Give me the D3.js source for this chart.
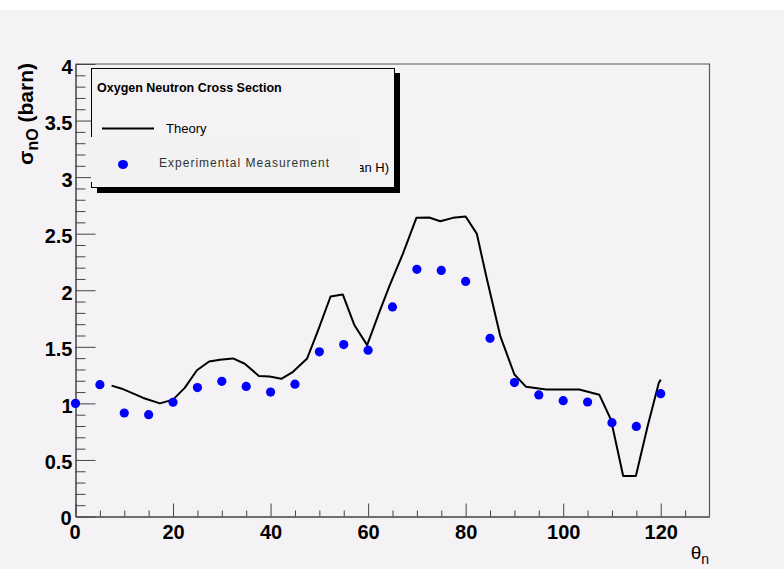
<!DOCTYPE html>
<html>
<head>
<meta charset="utf-8">
<script src="https://cdn.jsdelivr.net/npm/d3@7"></script>
<style>
  body { margin: 0; background: #f5f2f5; }
  svg { display: block; font-family: 'Liberation Sans', Arial, sans-serif; }
</style>
</head>
<body>
<div id="chart"></div>
<script>
// measured points
var angles = [0, 5, 10, 15, 20, 25, 30, 35, 40, 45, 50, 55, 60, 65, 70, 75, 80, 85, 90, 95, 100, 105, 110, 115, 120]
var measured = [1.0, 1.165, 0.915, 0.9, 1.01, 1.14, 1.195, 1.15, 1.10, 1.17, 1.456, 1.52, 1.47, 1.853, 2.185, 2.175, 2.078, 1.575, 1.184, 1.075, 1.024, 1.012, 0.829, 0.796, 1.086]

// theory curve
var theoryX = [7.4, 9.5, 13.9, 17.3, 20, 22.4, 24.9, 27.4, 29.6, 32.3, 34.7, 37.6, 39.8, 42.2, 44.6, 47.5, 49.7, 52.3, 54.8, 57.2, 59.8, 62.4, 64.4, 67.1, 69.9, 72.5, 74.8, 77.4, 80, 82.3, 84.2, 87.1, 90, 92.4, 96.5, 103.3, 107.4, 109.8, 112.3, 114.9, 117.3, 119.6, 120]
var theoryY = [1.157, 1.13, 1.048, 1.0, 1.033, 1.137, 1.293, 1.37, 1.385, 1.397, 1.35, 1.243, 1.237, 1.217, 1.279, 1.397, 1.64, 1.945, 1.963, 1.69, 1.515, 1.817, 2.04, 2.32, 2.64, 2.643, 2.61, 2.64, 2.652, 2.498, 2.128, 1.595, 1.255, 1.146, 1.122, 1.122, 1.077, 0.855, 0.358, 0.358, 0.796, 1.181, 1.21]

var xTicks = [0, 20, 40, 60, 80, 100, 120]
var yTicks = [0, 0.5, 1, 1.5, 2, 2.5, 3, 3.5, 4]

var W = 784, H = 569
var svg = d3.select('#chart').append('svg')
  .attr('width', W)
  .attr('height', H)

// white strip on top
svg.append('rect').attr('x', 0).attr('y', 0).attr('width', W).attr('height', 10).attr('fill', '#ffffff')

var x = d3.scaleLinear().domain([0, 130]).range([75.5, 709.5])
var y = d3.scaleLinear().domain([0, 4]).range([516.5, 64])

var axisColor = '#444'

// frame (top and right)
svg.append('path')
  .attr('d', 'M' + x(0) + ',' + y(4) + 'H' + x(130) + 'V' + y(0))
  .attr('fill', 'none')
  .attr('stroke', '#555')
  .attr('stroke-width', 1.2)

// x axis
var gx = svg.append('g').attr('transform', 'translate(0,' + y(0) + ')')
gx.call(d3.axisBottom(x).tickValues(d3.range(0, 130, 5)).tickSize(0).tickFormat(''))
gx.select('.domain').attr('stroke', axisColor).attr('stroke-width', 1.5)
gx.selectAll('.tick line')
  .attr('y2', function (d) { return d % 20 === 0 ? -13 : -6 })
  .attr('stroke', axisColor)
gx.selectAll('.tick')
  .filter(function (d) { return xTicks.indexOf(d) >= 0 })
  .append('text')
  .attr('y', 22)
  .attr('x', function (d) { return d === 0 ? -1 : 0 })
  .attr('fill', '#000')
  .attr('text-anchor', 'middle')
  .style('font-size', '20px')
  .style('font-weight', 'bold')
  .text(function (d) { return d })

// y axis
var gy = svg.append('g').attr('transform', 'translate(' + x(0) + ',0)')
gy.call(d3.axisLeft(y).tickValues(d3.range(0, 41).map(function (v) { return v / 10 })).tickSize(0).tickFormat(''))
gy.select('.domain').attr('stroke', axisColor).attr('stroke-width', 1.5)
gy.selectAll('.tick line')
  .attr('x2', function (d) { return Math.round(d * 10) % 5 === 0 ? 20 : 10 })
  .attr('stroke', axisColor)
gy.selectAll('.tick')
  .filter(function (d) { return yTicks.indexOf(Math.round(d * 10) / 10) >= 0 })
  .append('text')
  .attr('x', function (d) { return d === 0 ? -4 : -3 })
  .attr('dy', function (d) { return d === 0 ? '0.4em' : '0.45em' })
  .attr('fill', '#000')
  .attr('text-anchor', 'end')
  .style('font-size', '20px')
  .style('font-weight', 'bold')
  .text(function (d) { return d })

// axis titles
var yt = svg.append('text')
  .attr('transform', 'translate(33,63) rotate(-90)')
  .attr('text-anchor', 'end')
  .style('font-size', '21px')
  .style('font-weight', 'bold')
yt.append('tspan').text('σ')
yt.append('tspan').attr('dy', 5).style('font-size', '16px').text('nO')
yt.append('tspan').attr('dy', -5).text(' (barn)')

var xt = svg.append('text')
  .attr('x', 709)
  .attr('y', 559)
  .attr('text-anchor', 'end')
  .style('font-size', '19px')
xt.append('tspan').text('θ')
xt.append('tspan').attr('dy', 5).style('font-size', '14px').text('n')

// theory line
var theory = theoryX.map(function (v, i) { return [v, theoryY[i]] })
svg.append('path')
  .datum(theory)
  .attr('fill', 'none')
  .attr('stroke', '#000')
  .attr('stroke-width', 2)
  .attr('stroke-linejoin', 'round')
  .attr('d', d3.line().x(function (d) { return x(d[0]) }).y(function (d) { return y(d[1]) }))

// measurement points
svg.append('g').selectAll('circle')
  .data(angles)
  .join('circle')
  .attr('cx', function (d) { return x(d) })
  .attr('cy', function (d, i) { return y(measured[i]) })
  .attr('r', 4.6)
  .attr('fill', '#0000ff')

// legend
var lg = svg.append('g')
lg.append('rect').attr('x', 97).attr('y', 73).attr('width', 303).attr('height', 120).attr('fill', '#000')
lg.append('rect').attr('x', 91.5).attr('y', 68.5).attr('width', 303).attr('height', 119)
  .attr('fill', '#f5f2f5').attr('stroke', '#000').attr('stroke-width', 1)
lg.append('text').attr('x', 97).attr('y', 92)
  .style('font-size', '12.5px').style('font-weight', 'bold')
  .text('Oxygen Neutron Cross Section')
lg.append('line').attr('x1', 102).attr('x2', 154).attr('y1', 128.5).attr('y2', 128.5)
  .attr('stroke', '#000').attr('stroke-width', 2)
lg.append('text').attr('x', 166).attr('y', 133).style('font-size', '13px').text('Theory')
lg.append('text').attr('x', 389).attr('y', 172).attr('text-anchor', 'end')
  .style('font-size', '13px').text('an H)')
lg.append('rect').attr('x', 91).attr('y', 137).attr('width', 269).attr('height', 45).attr('fill', '#f2f2f2')
lg.append('ellipse').attr('cx', 123).attr('cy', 164.5).attr('rx', 5).attr('ry', 4.5).attr('fill', '#0000ff')
lg.append('text').attr('x', 159).attr('y', 167)
  .attr('textLength', 170)
  .attr('fill', '#333')
  .style('font-size', '12px')
  .text('Experimental Measurement')
</script>
</body>
</html>
